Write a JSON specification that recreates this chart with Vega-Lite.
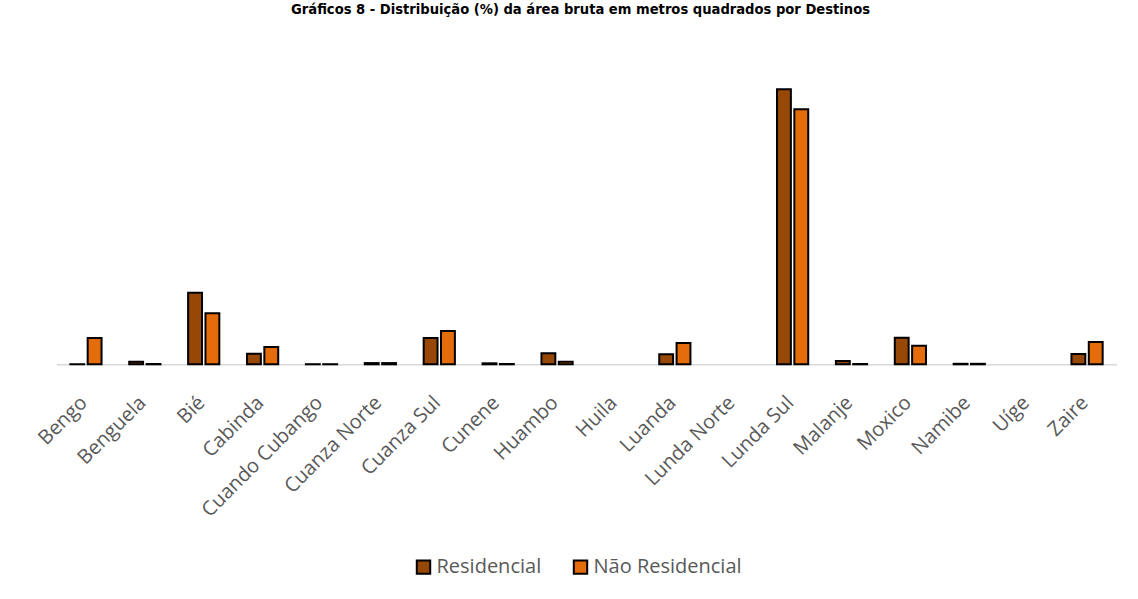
{
  "$schema": "https://vega.github.io/schema/vega-lite/v6.json",
  "width": 1060,
  "height": 315,
  "autosize": {"type": "none"},
  "padding": {"left": 56.5, "top": 49.3, "right": 21.5, "bottom": 234.7},
  "background": "white",
  "title": {
    "text": "Gráficos 8 - Distribuição (%) da área bruta em metros quadrados por Destinos",
    "font": "DejaVu Sans Condensed",
    "fontSize": 14.6,
    "fontWeight": "bold",
    "color": "#000000",
    "anchor": "middle",
    "baseline": "bottom",
    "offset": 18,
    "dx": -6
  },
  "data": {
    "values": [
      {"provincia": "Bengo", "destino": "Residencial", "valor": 0.02},
      {"provincia": "Bengo", "destino": "Não Residencial", "valor": 5.84},
      {"provincia": "Benguela", "destino": "Residencial", "valor": 0.56},
      {"provincia": "Benguela", "destino": "Não Residencial", "valor": 0.07},
      {"provincia": "Bié", "destino": "Residencial", "valor": 15.9},
      {"provincia": "Bié", "destino": "Não Residencial", "valor": 11.33},
      {"provincia": "Cabinda", "destino": "Residencial", "valor": 2.36},
      {"provincia": "Cabinda", "destino": "Não Residencial", "valor": 3.84},
      {"provincia": "Cuando Cubango", "destino": "Residencial", "valor": 0.02},
      {"provincia": "Cuando Cubango", "destino": "Não Residencial", "valor": 0.02},
      {"provincia": "Cuanza Norte", "destino": "Residencial", "valor": 0.27},
      {"provincia": "Cuanza Norte", "destino": "Não Residencial", "valor": 0.27},
      {"provincia": "Cuanza Sul", "destino": "Residencial", "valor": 5.84},
      {"provincia": "Cuanza Sul", "destino": "Não Residencial", "valor": 7.4},
      {"provincia": "Cunene", "destino": "Residencial", "valor": 0.22},
      {"provincia": "Cunene", "destino": "Não Residencial", "valor": 0.07},
      {"provincia": "Huambo", "destino": "Residencial", "valor": 2.44},
      {"provincia": "Huambo", "destino": "Não Residencial", "valor": 0.58},
      {"provincia": "Huila", "destino": "Residencial", "valor": null},
      {"provincia": "Huila", "destino": "Não Residencial", "valor": null},
      {"provincia": "Luanda", "destino": "Residencial", "valor": 2.22},
      {"provincia": "Luanda", "destino": "Não Residencial", "valor": 4.73},
      {"provincia": "Lunda Norte", "destino": "Residencial", "valor": null},
      {"provincia": "Lunda Norte", "destino": "Não Residencial", "valor": null},
      {"provincia": "Lunda Sul", "destino": "Residencial", "valor": 61.1},
      {"provincia": "Lunda Sul", "destino": "Não Residencial", "valor": 56.67},
      {"provincia": "Malanje", "destino": "Residencial", "valor": 0.73},
      {"provincia": "Malanje", "destino": "Não Residencial", "valor": 0.07},
      {"provincia": "Moxico", "destino": "Residencial", "valor": 5.91},
      {"provincia": "Moxico", "destino": "Não Residencial", "valor": 4.13},
      {"provincia": "Namibe", "destino": "Residencial", "valor": 0.11},
      {"provincia": "Namibe", "destino": "Não Residencial", "valor": 0.11},
      {"provincia": "Uíge", "destino": "Residencial", "valor": null},
      {"provincia": "Uíge", "destino": "Não Residencial", "valor": null},
      {"provincia": "Zaire", "destino": "Residencial", "valor": 2.29},
      {"provincia": "Zaire", "destino": "Não Residencial", "valor": 4.96}
    ]
  },
  "mark": {"type": "bar", "stroke": "#000000", "strokeWidth": 2},
  "encoding": {
    "x": {
      "field": "provincia",
      "type": "nominal",
      "sort": null,
      "scale": {
        "domain": ["Bengo", "Benguela", "Bié", "Cabinda", "Cuando Cubango", "Cuanza Norte", "Cuanza Sul", "Cunene", "Huambo", "Huila", "Luanda", "Lunda Norte", "Lunda Sul", "Malanje", "Moxico", "Namibe", "Uíge", "Zaire"],
        "paddingInner": 0.47,
        "paddingOuter": 0.235
      },
      "axis": {
        "title": null,
        "labelAngle": -45,
        "labelAlign": "right",
        "labelBaseline": "middle",
        "labelFont": "Open Sans",
        "labelFontSize": 20,
        "labelColor": "#595959",
        "labelPadding": 35,
        "labelOffset": -2,
        "ticks": false,
        "domainColor": "#d9d9d9",
        "domainWidth": 1.5,
        "labelOverlap": false
      }
    },
    "xOffset": {
      "field": "destino",
      "type": "nominal",
      "sort": ["Residencial", "Não Residencial"],
      "scale": {"paddingInner": 0.2, "paddingOuter": 0}
    },
    "y": {
      "field": "valor",
      "type": "quantitative",
      "scale": {"domain": [0, 70], "nice": false},
      "axis": null
    },
    "color": {
      "field": "destino",
      "type": "nominal",
      "sort": ["Residencial", "Não Residencial"],
      "scale": {"domain": ["Residencial", "Não Residencial"], "range": ["#974706", "#E46C0A"]},
      "legend": {
        "title": null,
        "orient": "none",
        "direction": "horizontal",
        "legendX": 357,
        "legendY": 507.7,
        "padding": 0,
        "symbolType": "square",
        "symbolSize": 180,
        "symbolStrokeColor": "#000000",
        "symbolStrokeWidth": 2,
        "labelFont": "Open Sans",
        "labelFontSize": 20,
        "labelColor": "#595959",
        "labelOffset": 3,
        "columnPadding": 28
      }
    }
  },
  "config": {
    "view": {"stroke": null}
  }
}
